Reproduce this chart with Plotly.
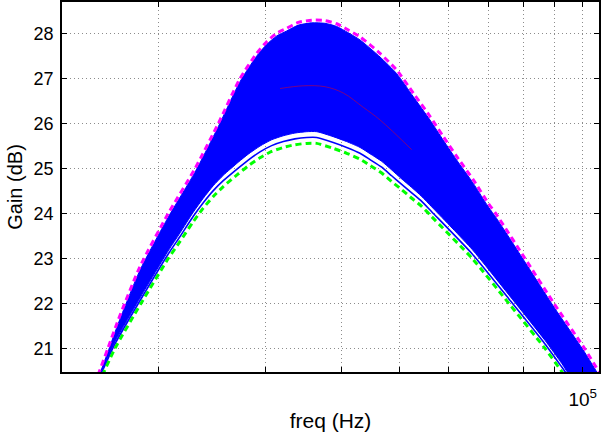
import plotly.graph_objects as go

# Upper bound (magenta dashed)
upper_freq = [15700, 15980, 16510, 17180, 18650, 20760, 22980, 25100, 27250, 29030,
              30160, 31330, 32540, 34010, 35770, 37630, 39330, 41100, 42970, 46370,
              49390, 52590, 56030, 58940, 62000, 66040, 69900, 72160, 80350, 89680,
              100690, 106380, 109900]
upper_gain = [20.20, 20.48, 21.00, 21.64, 22.82, 24.00, 25.00, 26.00, 27.00, 27.56,
              27.82, 28.01, 28.12, 28.25, 28.30, 28.29, 28.22, 28.08, 27.93, 27.56,
              27.19, 26.68, 26.16, 25.71, 25.27, 24.75, 24.23, 23.97, 23.00, 22.00,
              21.00, 20.48, 20.20]

# Lower bound (green dashed)
lower_freq = [15900, 16270, 16960, 18720, 20760, 21710, 22830, 23710, 24630, 25580,
              27070, 28120, 29400, 30730, 32130, 33570, 35100, 36460, 38820, 40850,
              42970, 44630, 46660, 48450, 50330, 52280, 54300, 56390, 65770, 75590,
              86680, 92450, 95650]
lower_gain = [20.20, 20.48, 21.00, 22.00, 23.00, 23.38, 23.82, 24.12, 24.38, 24.60,
              24.88, 25.06, 25.24, 25.38, 25.47, 25.53, 25.56, 25.56, 25.45, 25.34,
              25.21, 25.07, 24.90, 24.71, 24.53, 24.34, 24.16, 23.93, 23.00, 22.00,
              21.00, 20.48, 20.20]

# Monte-Carlo (blue) curves: highest curve, lowest curve, and lower edge of the dense bundle
mc_top_gain = [20.12, 20.40, 20.92, 21.56, 22.74, 23.92, 24.92, 25.93, 26.93, 27.50,
               27.76, 27.95, 28.06, 28.19, 28.24, 28.23, 28.16, 28.02, 27.86, 27.48,
               27.11, 26.60, 26.08, 25.63, 25.19, 24.67, 24.15, 23.89, 22.92, 21.92,
               20.92, 20.40, 20.12]
mc_low_gain = [20.30, 20.58, 21.10, 22.10, 23.10, 23.49, 23.94, 24.24, 24.51, 24.73,
               25.01, 25.19, 25.37, 25.51, 25.60, 25.66, 25.69, 25.69, 25.58, 25.47,
               25.34, 25.20, 25.03, 24.84, 24.65, 24.46, 24.27, 24.04, 23.10, 22.10,
               21.10, 20.58, 20.30]
mc_bundle_low_gain = [20.34, 20.62, 21.15, 22.16, 23.17, 23.57, 24.03, 24.34, 24.62, 24.85,
                      25.14, 25.32, 25.50, 25.64, 25.73, 25.79, 25.82, 25.82, 25.71, 25.60,
                      25.47, 25.33, 25.16, 24.97, 24.77, 24.58, 24.38, 24.15, 23.20, 22.19,
                      21.18, 20.66, 20.38]

# Nominal (red) curve, visible part
nominal_freq = [31720, 34650, 37630, 40330, 43520, 46370, 52280]
nominal_gain = [26.78, 26.84, 26.82, 26.68, 26.36, 26.08, 25.42]

x_tickvals = [20000, 30000, 40000, 50000, 60000, 70000, 80000, 90000, 100000]
x_ticktext = ["", "", "", "", "", "", "", "", "10<sup>5</sup>"]
y_tickvals = [21, 22, 23, 24, 25, 26, 27, 28]

fig = go.Figure()

band_x = upper_freq + lower_freq[::-1]
band_y = mc_top_gain + mc_bundle_low_gain[::-1]
fig.add_trace(go.Scatter(x=band_x, y=band_y, mode="lines", fill="toself",
                         fillcolor="#0000FF",
                         line=dict(color="#0000FF", width=1, shape="spline", smoothing=0.6),
                         hoverinfo="skip", showlegend=False))
fig.add_trace(go.Scatter(x=lower_freq, y=mc_low_gain, mode="lines",
                         line=dict(color="#0000FF", width=1.6, shape="spline", smoothing=0.6),
                         hoverinfo="skip", showlegend=False))
fig.add_trace(go.Scatter(x=nominal_freq, y=nominal_gain, mode="lines",
                         line=dict(color="#FF0000", width=0.8, shape="spline"),
                         opacity=0.6, showlegend=False))
fig.add_trace(go.Scatter(x=upper_freq, y=upper_gain, mode="lines",
                         line=dict(color="#FF00FF", width=3, dash="6px,4px", shape="spline", smoothing=0.6),
                         showlegend=False))
fig.add_trace(go.Scatter(x=lower_freq, y=lower_gain, mode="lines",
                         line=dict(color="#00FF00", width=3, dash="6px,4px", shape="spline", smoothing=0.6),
                         showlegend=False))

font_family = "Liberation Sans, Arial, Helvetica, sans-serif"
grid = dict(showgrid=True, gridcolor="rgba(0,0,0,0.45)", griddash="1px,3px", gridwidth=1)

fig.update_layout(
    width=604, height=438,
    margin=dict(l=62, r=5, t=2, b=66, autoexpand=False),
    paper_bgcolor="white", plot_bgcolor="white",
    font=dict(family=font_family, size=18, color="black"),
    showlegend=False,
    xaxis=dict(type="log", range=[4.1422, 5.0269], tickmode="array",
               tickvals=x_tickvals, ticktext=x_ticktext, automargin=False,
               ticks="inside", ticklen=5, tickcolor="black", tickwidth=1,
               showline=True, linecolor="black", linewidth=1.5, mirror="ticks",
               zeroline=False, tickfont=dict(size=19), ticklabelstandoff=9,
               title=dict(text="freq (Hz)", font=dict(size=21), standoff=5),
               **grid),
    yaxis=dict(range=[20.476, 28.704], tickmode="array", tickvals=y_tickvals,
               automargin=False,
               ticks="inside", ticklen=5, tickcolor="black", tickwidth=1,
               showline=True, linecolor="black", linewidth=1.5, mirror="ticks",
               zeroline=False, tickfont=dict(size=18), ticklabelstandoff=3,
               title=dict(text="Gain (dB)", font=dict(size=20), standoff=6),
               **grid),
)

fig.write_html("out.html", config={"displayModeBar": False},
               post_script="document.body.style.margin='0px';document.body.style.overflow='hidden';")
